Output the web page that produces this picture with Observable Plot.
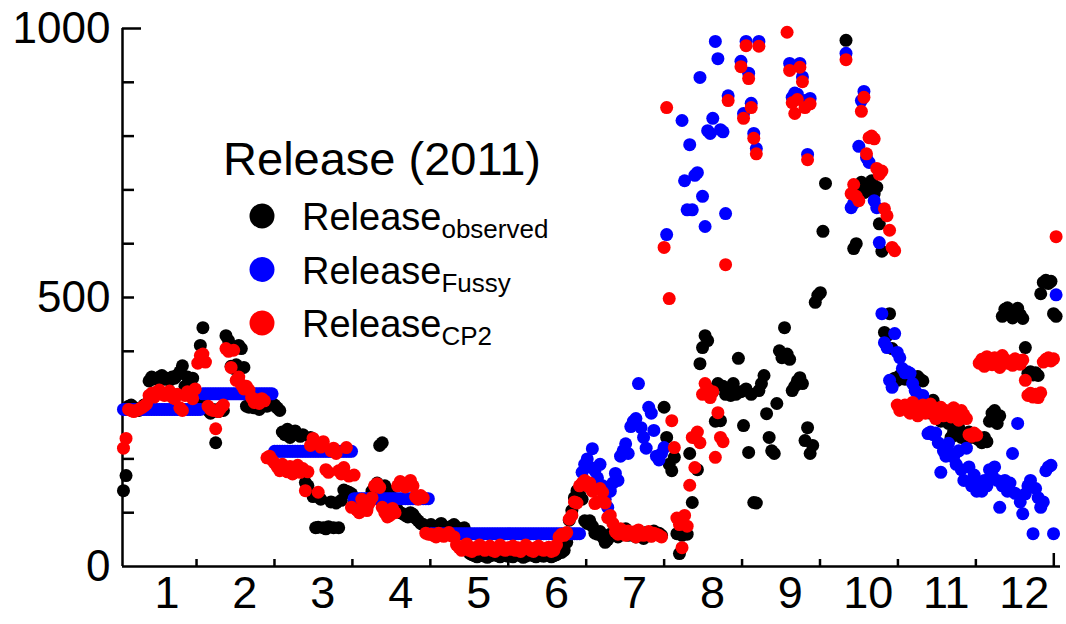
<!DOCTYPE html>
<html>
<head>
<meta charset="utf-8">
<script src="https://cdn.jsdelivr.net/npm/d3@7"></script>
<script src="https://cdn.jsdelivr.net/npm/@observablehq/plot@0.6"></script>
<style>
  html, body { margin: 0; padding: 0; background: #fff; }
  #chart { width: 1066px; height: 624px; }
</style>
</head>
<body>
<div id="chart"></div>
<script>
// ---- Data (daily values, 2011; null = no visible point) ----
const observed = [
  141,169,298,300,296,292,290,295,300,302,345,352,350,348,352,355,348,350,346,352,350,356,362,373,335,352,348,350,300,305,411,
  444,300,290,285,292,230,288,295,290,429,420,372,368,375,411,405,370,298,296,300,295,298,292,300,305,298,302,300,
  300,295,290,250,245,255,240,248,252,245,242,245,156,150,240,130,72,73,125,72,70,74,120,72,118,72,123,142,140,138,135,
  118,112,105,120,115,108,125,140,148,155,225,230,150,142,138,120,112,105,100,98,95,92,100,97,90,85,80,78,75,73,
  78,75,72,76,80,74,70,72,75,78,73,70,68,72,40,25,22,20,18,20,22,19,17,20,21,24,20,18,20,22,19,
  20,18,22,24,20,17,19,21,23,20,18,22,20,19,24,21,18,20,22,26,26,30,45,86,104,128,141,135,125,85,
  80,85,75,62,60,65,55,45,50,60,58,62,55,65,60,70,58,62,60,55,65,58,52,63,60,57,66,60,62,58,296,
  240,190,178,203,61,24,58,62,60,210,119,240,180,377,407,429,420,330,325,270,340,271,335,320,330,318,340,320,387,325,262,
  330,212,320,119,118,327,340,355,284,240,215,210,303,401,388,444,395,385,327,335,345,351,340,234,258,210,225,491,504,509,
  623,712,null,null,null,null,null,null,null,978,null,null,591,600,705,714,695,710,700,717,693,705,637,586,435,429,470,405,350,346,355,
  352,348,350,355,346,350,353,348,345,300,290,285,309,280,295,270,288,275,266,240,250,245,258,240,248,235,250,245,240,238,
  235,230,240,232,270,285,290,266,280,465,478,481,470,462,475,480,468,461,407,359,362,356,360,355,507,528,532,526,530,470,465
];
const fussy = [
  292,292,292,292,292,292,292,292,292,292,292,292,292,292,292,292,292,292,292,292,292,292,292,292,292,292,292,292,292,292,292,
  321,321,321,321,321,321,321,321,321,321,321,321,321,321,321,321,321,321,321,321,321,321,321,321,321,321,321,321,
  214,214,214,214,214,214,214,214,214,214,214,214,214,214,214,214,214,214,214,214,214,214,214,214,214,214,214,214,214,214,214,
  126,126,126,126,126,126,126,126,126,126,126,126,126,126,126,126,126,126,126,126,126,126,126,126,126,126,126,126,126,126,
  61,61,61,61,61,61,61,61,61,61,61,61,61,61,61,61,61,61,61,61,61,61,61,61,61,61,61,61,61,61,61,
  61,61,61,61,61,61,61,61,61,61,61,61,61,61,61,61,61,61,61,61,61,61,61,61,61,61,61,61,175,190,
  200,185,219,178,165,190,150,125,110,140,155,173,160,205,215,228,210,260,270,275,340,258,240,220,296,285,253,205,198,210,221,
  617,null,null,null,null,null,829,717,663,784,663,727,732,909,688,632,810,805,833,976,944,812,808,656,875,null,null,null,null,939,842,
  976,917,861,805,777,976,null,null,null,null,null,null,null,null,null,null,null,935,872,880,878,935,910,866,766,870,null,null,null,null,
  null,null,null,null,null,null,null,null,null,954,null,667,675,680,781,866,883,760,751,null,680,667,602,470,416,407,346,333,433,398,388,
  368,360,362,359,340,327,320,314,318,300,247,250,245,248,230,175,215,205,229,210,203,190,215,180,160,220,185,150,170,140,
  155,140,160,150,180,170,185,160,110,150,160,140,155,210,136,266,120,98,135,150,160,61,145,128,110,120,178,185,188,61,505
];
const cp2 = [
  220,238,292,290,288,290,292,295,298,302,318,322,315,325,328,320,318,322,326,315,312,320,295,290,318,325,320,312,330,378,392,
  395,380,298,292,290,256,288,295,300,405,400,370,402,346,352,338,330,335,328,314,305,310,303,312,308,202,205,198,
  192,185,178,190,182,176,186,172,180,188,175,182,141,176,225,238,230,138,222,232,180,175,215,220,210,178,172,184,221,168,110,
  170,105,100,125,110,104,118,128,150,154,147,110,100,92,95,108,100,150,158,155,148,152,160,150,130,125,132,128,62,60,
  60,58,55,62,58,56,60,63,57,55,40,35,30,38,42,30,28,35,32,40,36,30,33,38,30,28,35,40,32,30,35,
  32,38,30,35,28,33,40,36,30,28,35,38,32,30,34,36,28,30,40,55,60,58,63,88,95,120,118,150,155,160,
  150,155,140,117,120,145,138,118,91,95,80,65,60,70,62,58,66,60,64,55,68,62,58,60,65,56,62,60,58,55,593,
  853,498,271,221,90,78,35,95,75,151,240,184,250,230,320,340,330,314,325,203,286,240,232,561,866,null,null,null,null,929,833,
  968,907,853,796,767,967,null,null,null,null,null,null,null,null,null,null,993,922,862,842,868,928,901,853,756,860,null,null,null,null,
  null,null,null,null,null,null,null,null,null,942,null,693,710,688,680,846,872,767,797,800,795,740,729,735,665,652,625,593,587,300,290,
  295,300,290,285,305,298,280,292,300,285,295,302,290,275,288,296,280,290,285,278,295,288,272,290,282,275,245,242,248,244,
  378,385,372,390,380,375,388,382,370,392,385,378,380,374,386,380,376,384,346,318,322,315,320,314,323,380,385,388,382,386,613
];
const monthTicks = [1,2,3,4,5,6,7,8,9,10,11];
const lastTick = [12];
const monthLabels = ["1","2","3","4","5","6","7","8","9","10","11","12"];
const yTicks = [100,200,300,400,500,600,700,800,900];
const yTop = [1000];
const yLabels = [0,500,1000];
const seriesNames = ["observed","Fussy","CP2"];
const seriesColors = ["#000000","#0000ff","#ff0000"];

// ---- Layout ----
const W = 1066, H = 624, ML = 122, MR = 6, MT = 28, MB = 58;
const plotW = W - ML - MR, plotH = H - MT - MB;
const xDomain = [0.05, 12.086];
const toRows = arr => arr.map((v, i) => ({x: (i + 1.9) * 12 / 365, v}));
const FONT = "'Liberation Sans', Arial, Helvetica, sans-serif";
const AX = {stroke: "#000", strokeWidth: 2.5};

const chart = Plot.plot({
  width: W, height: H,
  marginLeft: ML, marginRight: MR, marginTop: MT, marginBottom: MB,
  x: {domain: xDomain, axis: null},
  y: {domain: [0, 1000], axis: null},
  style: {fontFamily: FONT, background: "#fff", color: "#000", overflow: "visible"},
  marks: [
    Plot.ruleY(yTicks, {...AX, insetRight: plotW - 12}),
    Plot.ruleY(yTop, {...AX, insetRight: plotW - 19}),
    Plot.ruleX(monthTicks, {...AX, insetTop: plotH - 7}),
    Plot.ruleX(lastTick, {...AX, insetTop: plotH - 13}),
    Plot.ruleX([xDomain[0]], AX),
    Plot.ruleY([0], AX),
    Plot.text(yLabels, {y: d => d, text: d => String(d), frameAnchor: "left", dx: -12, textAnchor: "end", fontSize: 44, fill: "#000"}),
    Plot.text(monthLabels, {x: (d, i) => i + 1 - 0.38, text: d => d, frameAnchor: "bottom", dy: 41, fontSize: 45, fill: "#000"}),
    Plot.dot(toRows(observed), {x: "x", y: "v", r: 6.5, fill: seriesColors[0]}),
    Plot.dot(toRows(fussy), {x: "x", y: "v", r: 6.5, fill: seriesColors[1]}),
    Plot.dot(toRows(cp2), {x: "x", y: "v", r: 6.5, fill: seriesColors[2]})
  ]
});
document.getElementById("chart").appendChild(chart);

// ---- Legend (inside the plot area) ----
const svg = d3.select(chart);
const lg = svg.append("g").attr("font-family", FONT).attr("fill", "#000");
lg.append("text").attr("x", 382).attr("y", 175).attr("text-anchor", "middle")
  .attr("font-size", 47).text("Release (2011)");
seriesNames.forEach((name, j) => {
  const cy = 216 + j * 53.5;
  lg.append("circle").attr("cx", 262).attr("cy", cy).attr("r", 12.5).attr("fill", seriesColors[j]);
  const t = lg.append("text").attr("x", 302).attr("y", cy + 14).attr("text-anchor", "start").attr("font-size", 38);
  t.append("tspan").text("Release");
  t.append("tspan").attr("font-size", 26).attr("dy", 8).text(name);
});
</script>
</body>
</html>
